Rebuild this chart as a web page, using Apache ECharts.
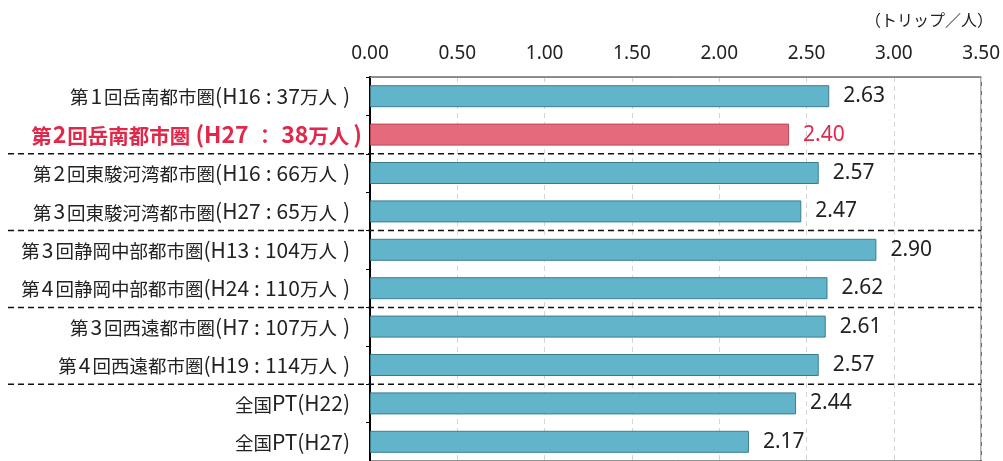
<!DOCTYPE html>
<html>
<head>
<meta charset="utf-8">
<script src="https://cdn.jsdelivr.net/npm/echarts@6/dist/echarts.min.js"></script>
<style>
html,body{margin:0;padding:0;background:#fff;}
#chart{width:1003px;height:461px;}
</style>
</head>
<body>
<div id="chart"></div>
<script>
var categories = [
  "第1回岳南都市圏(H16:37万人)",
  "第2回岳南都市圏 (H27：38万人)",
  "第2回東駿河湾都市圏(H16:66万人)",
  "第3回東駿河湾都市圏(H27:65万人)",
  "第3回静岡中部都市圏(H13:104万人)",
  "第4回静岡中部都市圏(H24:110万人)",
  "第3回西遠都市圏(H7:107万人)",
  "第4回西遠都市圏(H19:114万人)",
  "全国PT(H22)",
  "全国PT(H27)"
];
var values = [2.63, 2.40, 2.57, 2.47, 2.90, 2.62, 2.61, 2.57, 2.44, 2.17];
var highlightIndex = 1;
var groupBreaks = [1, 3, 5, 7]; // separator after these category indices
var unitLabel = "（トリップ／人）";

var CJK = '"Noto Sans CJK JP", sans-serif';
var NUM = '"Noto Sans", "Noto Sans CJK JP", sans-serif';
var RED = '#E0284A';
var INK = '#222';
var chart = echarts.init(document.getElementById('chart'));

// split label into runs (colon / ascii / cjk) -> rich tokens
function richLabel(text, red) {
  var p = red ? 'r' : 'n';
  var out = '';
  var re = /([:：])|([\x20-\x39\x3B-\x7E]+)|([^\x20-\x7E：]+)/g;
  var m, prevCjk = false;
  while ((m = re.exec(text)) !== null) {
    var tag;
    if (m[1]) { tag = p + 'k'; prevCjk = false; }
    else if (m[2]) {
      if (m[0] === ')' && prevCjk) tag = p + 'e';
      else if (/^[0-9]$/.test(m[0]) && prevCjk) tag = p + 'd';
      else tag = p + 'a';
      prevCjk = false;
    } else { tag = p + 'c'; prevCjk = true; }
    out += '{' + tag + '|' + m[0] + '}';
  }
  if (!red) out += '{pad|}';
  return out;
}

function tok(size, color, bold, family, pad) {
  var s = { fontSize: size, color: color, fontFamily: family, verticalAlign: 'bottom' };
  if (bold) s.fontWeight = 'bold';
  if (pad) s.padding = pad;
  return s;
}

var option = {
  animation: false,
  backgroundColor: '#fff',
  textStyle: { fontFamily: CJK },
  title: {
    text: unitLabel,
    right: 10,
    top: 12,
    padding: 0,
    textStyle: { fontSize: 16, fontWeight: 'normal', color: INK, fontFamily: CJK }
  },
  grid: {
    left: 370, right: 20, top: 77, height: 387,
    show: true, borderColor: '#222', borderWidth: 1, backgroundColor: 'transparent',
    containLabel: false
  },
  xAxis: {
    type: 'value',
    position: 'top',
    min: 0, max: 3.5, interval: 0.5,
    axisLine: { show: true, lineStyle: { color: '#888', width: 1 } },
    axisTick: { show: false },
    axisLabel: {
      fontSize: 19, color: INK, margin: 14, fontFamily: NUM,
      formatter: function (v) { return v.toFixed(2); }
    },
    splitLine: { show: true, lineStyle: { color: '#d4d4d4', type: [5, 4], width: 1 } }
  },
  yAxis: {
    type: 'category',
    inverse: true,
    data: categories,
    axisLine: { show: true, lineStyle: { color: '#000', width: 2 } },
    axisTick: { show: true, length: 4, lineStyle: { color: '#000', width: 1 } },
    axisLabel: {
      margin: 8,
      formatter: function (v, i) { return richLabel(v, i === highlightIndex); },
      rich: {
        nc: tok(18.5, INK, false, CJK),
        na: tok(21, INK, false, CJK),
        nd: tok(21, INK, false, CJK, [0, 2, 0, 2]),
        nk: tok(21, INK, false, CJK, [0, 5, 0, 5]),
        ne: tok(21, INK, false, CJK, [0, 0, 0, 6]),
        pad: { width: 12, fontSize: 18 },
        rc: tok(20.5, RED, true, CJK),
        ra: tok(23, RED, true, CJK),
        rd: tok(23, RED, true, CJK, [0, 1, 0, 1]),
        rk: tok(20.5, RED, true, CJK, [0, 6, 0, 6]),
        re: tok(23, RED, true, CJK, [0, 0, 0, 4])
      }
    },
    splitLine: { show: false }
  },
  series: [{
    type: 'bar',
    data: values.map(function (v, i) {
      return i === highlightIndex
        ? { value: v, itemStyle: { color: '#E56A7C', borderColor: '#B5485A', borderWidth: 1 } }
        : v;
    }),
    barWidth: 22,
    itemStyle: { color: '#62B4CB', borderColor: '#3A7D91', borderWidth: 1 },
    label: {
      show: true, position: 'right', distance: 14,
      fontSize: 21, color: INK, fontFamily: NUM,
      formatter: function (p) {
        var t = p.value.toFixed(2);
        return p.dataIndex === highlightIndex ? '{r|' + t + '}' : '{k|' + t + '}';
      },
      rich: {
        k: { fontSize: 21, color: INK, fontFamily: NUM },
        r: { fontSize: 21, color: RED, fontFamily: NUM }
      }
    }
  }]
};
chart.setOption(option);

// group separators across label area and plot, positioned via the axis scale
var lines = groupBreaks.map(function (i) {
  var y1 = chart.convertToPixel({ yAxisIndex: 0 }, i);
  var y2 = chart.convertToPixel({ yAxisIndex: 0 }, i + 1);
  var y = (y1 + y2) / 2;
  var xr = chart.convertToPixel({ xAxisIndex: 0 }, 3.5);
  return {
    type: 'line', z: 100,
    shape: { x1: 8, y1: y, x2: xr, y2: y },
    style: { stroke: '#111', lineWidth: 1.5, lineDash: [6, 4] }
  };
});
chart.setOption({ graphic: lines });
</script>
</body>
</html>
